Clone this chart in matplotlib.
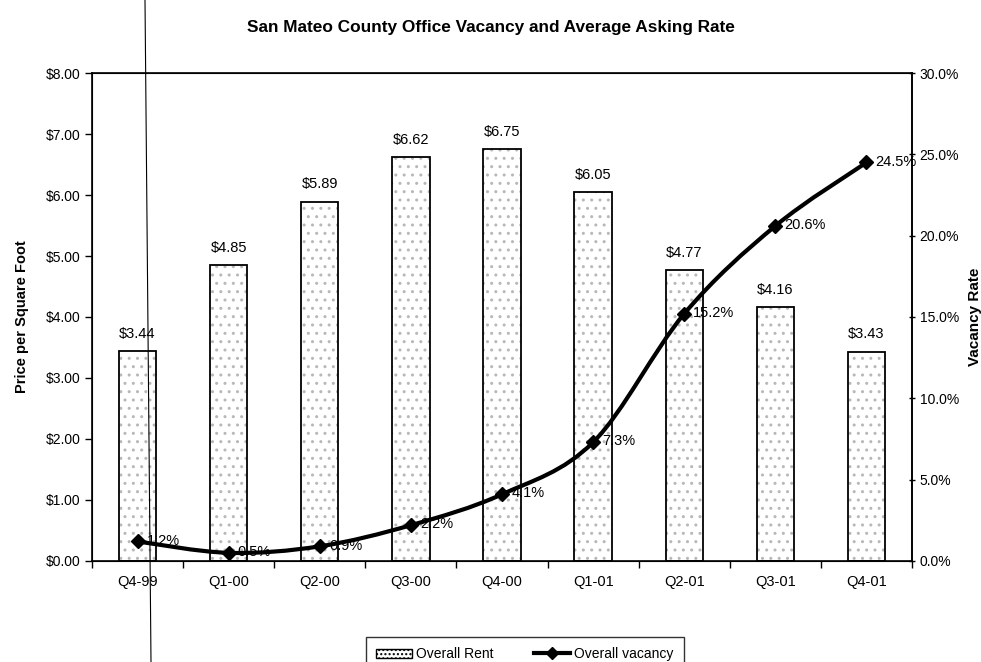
import numpy as np
import matplotlib.pyplot as plt
from matplotlib.path import Path
from matplotlib.patches import PathPatch, Patch
from matplotlib.lines import Line2D
from matplotlib.ticker import FuncFormatter, MultipleLocator

plt.rcParams['font.family'] = ['Liberation Sans', 'DejaVu Sans']

quarters = ['Q4-99', 'Q1-00', 'Q2-00', 'Q3-00', 'Q4-00', 'Q1-01', 'Q2-01', 'Q3-01', 'Q4-01']
rent = [3.44, 4.85, 5.89, 6.62, 6.75, 6.05, 4.77, 4.16, 3.43]
vacancy = [1.2, 0.5, 0.9, 2.2, 4.1, 7.3, 15.2, 20.6, 24.5]

fig = plt.figure(figsize=(9.81, 6.62), dpi=100)
ax = fig.add_axes([0.0938, 0.1526, 0.8359, 0.7371])
x = np.arange(len(quarters))

# stippled bars: gray dot fill first, then the black outline on top
ax.bar(x, rent, width=0.41, color='white', edgecolor='#b8b8b8', hatch='..', linewidth=0, zorder=2)
ax.bar(x, rent, width=0.41, facecolor='none', edgecolor='black', linewidth=1.3, zorder=3)
for xi, r in zip(x, rent):
    ax.text(xi, r + 0.17, f'${r:.2f}', ha='center', va='bottom', fontsize=10.5)

ax.set_xlim(-0.5, len(quarters) - 0.5)
ax.set_ylim(0, 8)
ax.yaxis.set_major_locator(MultipleLocator(1))
ax.yaxis.set_major_formatter(FuncFormatter(lambda v, p: f'${v:.2f}'))
ax.set_xticks(x)
ax.set_xticklabels(quarters, fontsize=10.5)
ax.tick_params(axis='x', length=0, pad=10)
ax.set_xticks(np.arange(-0.5, len(quarters), 1), minor=True)
ax.tick_params(axis='x', which='minor', length=5, direction='out', width=1)
ax.tick_params(axis='y', labelsize=10, length=5, direction='out', width=1)
ax.set_ylabel('Price per Square Foot', fontsize=10.5, fontweight='bold', labelpad=12)
for s in ax.spines.values():
    s.set_linewidth(1.2)

ax2 = ax.twinx()
ax2.set_ylim(0, 30)
ax2.yaxis.set_major_locator(MultipleLocator(5))
ax2.yaxis.set_major_formatter(FuncFormatter(lambda v, p: f'{v:.1f}%'))
ax2.tick_params(axis='y', labelsize=10, length=4, direction='inout', width=1)
ax2.set_ylabel('Vacancy Rate', fontsize=11, fontweight='bold', rotation=90, labelpad=6)
ax2.spines['right'].set_linewidth(1.2)

# smoothed vacancy curve (Catmull-Rom segments as cubic Beziers)
pts = np.column_stack([x, vacancy]).astype(float)
verts = [tuple(pts[0])]
codes = [Path.MOVETO]
for i in range(len(pts) - 1):
    p0 = pts[i - 1] if i > 0 else pts[i]
    p1, p2 = pts[i], pts[i + 1]
    p3 = pts[i + 2] if i + 2 < len(pts) else pts[i + 1]
    c1 = p1 + (p2 - p0) / 6
    c2 = p2 - (p3 - p1) / 6
    verts += [tuple(c1), tuple(c2), tuple(p2)]
    codes += [Path.CURVE4] * 3
ax2.add_patch(PathPatch(Path(verts, codes), facecolor='none', edgecolor='black', linewidth=3, zorder=4))
ax2.plot(x, vacancy, linestyle='none', marker='D', markersize=7, color='black', zorder=5)
for xi, v in zip(x, vacancy):
    ax2.text(xi + 0.1, v + 0.05, f'{v:.1f}%', ha='left', va='center', fontsize=10.5, zorder=6)

fig.text(0.5, 0.958, 'San Mateo County Office Vacancy and Average Asking Rate',
         ha='center', va='center', fontsize=12.4, fontweight='bold')

handles = [Patch(facecolor='white', edgecolor='black', hatch='....', linewidth=1),
           Line2D([], [], color='black', linewidth=3, marker='D', markersize=6)]
leg = fig.legend(handles, ['Overall Rent', 'Overall vacancy'], loc='upper center',
                 bbox_to_anchor=(0.535, 0.038), borderaxespad=0, ncol=2, fontsize=10,
                 frameon=True, fancybox=False, handlelength=2.6, handletextpad=0.3,
                 columnspacing=2.9, borderpad=0.75)
leg.get_frame().set_edgecolor('black')
leg.get_frame().set_linewidth(1)

# thin, slightly slanted rule crossing the page
fig.add_artist(Line2D([145 / 981, 151 / 981], [1, 0], transform=fig.transFigure,
                      color='black', linewidth=0.8))

fig.savefig('out.png', dpi=100)
